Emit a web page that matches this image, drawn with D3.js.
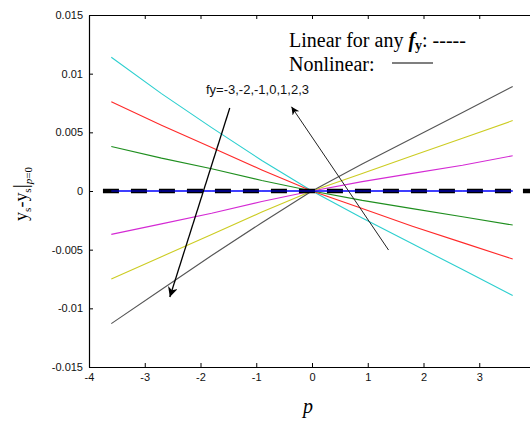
<!DOCTYPE html>
<html>
<head>
<meta charset="utf-8">
<script src="https://cdn.jsdelivr.net/npm/d3@7"></script>
<style>
  body { margin: 0; background: #fff; }
  svg { display: block; }
</style>
</head>
<body>
<script>
// sample positions along p
const pValues = [-3.6, -2.7, -1.8, -0.9, 0, 0.9, 1.8, 2.7, 3.6];

// one series per fy
const fyLabels = [-3, -2, -1, 0, 1, 2, 3];
const fyColors = ["#2ccfcf", "#ff2a2a", "#1f8f1f", "#0000ff", "#d42ad4", "#cccc22", "#555555"];
const fyMinus3 = [0.0114, 0.0083, 0.0054, 0.0026, 0, -0.0023, -0.0045, -0.0067, -0.0089];
const fyMinus2 = [0.0076, 0.0056, 0.0037, 0.0018, 0, -0.0015, -0.0030, -0.0044, -0.0058];
const fyMinus1 = [0.0038, 0.0028, 0.0019, 0.0009, 0, -0.0008, -0.0015, -0.0022, -0.0029];
const fyZero   = [0, 0, 0, 0, 0, 0, 0, 0, 0];
const fyPlus1  = [-0.0037, -0.0028, -0.0019, -0.0009, 0, 0.0008, 0.0015, 0.0022, 0.0030];
const fyPlus2  = [-0.0075, -0.0056, -0.0037, -0.0018, 0, 0.0015, 0.0030, 0.0045, 0.0060];
const fyPlus3  = [-0.0113, -0.0084, -0.0055, -0.0027, 0, 0.0023, 0.0045, 0.0067, 0.0089];
const seriesValues = [fyMinus3, fyMinus2, fyMinus1, fyZero, fyPlus1, fyPlus2, fyPlus3];

// the linear approximation (flat dashed line)
const linearP = [-3.75, 4];
const linearY = [0, 0];

const xTicks = [-4, -3, -2, -1, 0, 1, 2, 3];
const yTicks = [-0.015, -0.01, -0.005, 0, 0.005, 0.01, 0.015];

// annotation arrows [tail p, tail y, head p, head y]
const arrowDown = [-1.475, 0.00707, -2.55, -0.00903];
const arrowUp = [1.373, -0.00503, -0.368, 0.00718];

const width = 530, height = 425;
const margin = {left: 89, top: 15, bottom: 58};

const x = d3.scaleLinear().domain([-4, 4]).range([margin.left, 535]);
const y = d3.scaleLinear().domain([-0.015, 0.015]).range([height - margin.bottom, margin.top]);

const svg = d3.select("body").append("svg")
    .attr("width", width)
    .attr("height", height);

const defs = svg.append("defs");
defs.append("marker")
    .attr("id", "headBig")
    .attr("viewBox", "0 -5 10 10")
    .attr("refX", 10).attr("refY", 0)
    .attr("markerUnits", "userSpaceOnUse")
    .attr("markerWidth", 14).attr("markerHeight", 10)
    .attr("orient", "auto")
    .append("path").attr("d", "M0,-5L10,0L0,5L3,0Z").attr("fill", "#000");
defs.append("marker")
    .attr("id", "headSmall")
    .attr("viewBox", "0 -5 10 10")
    .attr("refX", 10).attr("refY", 0)
    .attr("markerUnits", "userSpaceOnUse")
    .attr("markerWidth", 11).attr("markerHeight", 8)
    .attr("orient", "auto")
    .append("path").attr("d", "M0,-5L10,0L0,5L3,0Z").attr("fill", "#000");

const line = d3.line()
    .x((d, i) => x(pValues[i]))
    .y(d => y(d));

// curves
svg.append("g")
    .attr("fill", "none")
    .attr("stroke-width", 1.1)
    .selectAll("path")
    .data(seriesValues)
    .join("path")
    .attr("stroke", (d, i) => fyColors[i])
    .attr("d", line);

// dashed linear result
svg.append("line")
    .attr("x1", x(linearP[0])).attr("x2", x(linearP[1]))
    .attr("y1", y(linearY[0])).attr("y2", y(linearY[1]))
    .attr("stroke", "#000")
    .attr("stroke-width", 4.5)
    .attr("stroke-dasharray", "16,12");

// redraw the fy=0 curve thin over the dashes, as in the original
svg.append("path")
    .attr("fill", "none")
    .attr("stroke", fyColors[3])
    .attr("stroke-width", 1)
    .attr("d", line(fyZero));

// axes: ticks point inward, plain hyphen for minus
const hyphen = s => s.replace("\u2212", "-");
const axisFont = "Liberation Sans, Arial, sans-serif";

const xAxis = svg.append("g")
    .attr("transform", `translate(0,${y(-0.015)})`)
    .call(d3.axisBottom(x).tickValues(xTicks).tickSizeInner(-4).tickSizeOuter(0)
        .tickFormat(d => hyphen(String(d))));
xAxis.selectAll("text").attr("dy", "0.71em").attr("y", 6);

const xTop = svg.append("g")
    .attr("transform", `translate(0,${y(0.015)})`)
    .call(d3.axisTop(x).tickValues(xTicks).tickSizeInner(-4).tickSizeOuter(0).tickFormat(""));

const yAxis = svg.append("g")
    .attr("transform", `translate(${x(-4)},0)`)
    .call(d3.axisLeft(y).tickValues(yTicks).tickSizeInner(-4).tickSizeOuter(0)
        .tickFormat(d => hyphen(String(+d.toFixed(3)))));
yAxis.selectAll("text").attr("x", -6);

svg.selectAll(".domain").attr("stroke", "#000").attr("stroke-width", 1.2);
svg.selectAll(".tick line").attr("stroke", "#000");
svg.selectAll(".tick text")
    .attr("font-family", axisFont)
    .attr("font-size", 11)
    .attr("fill", "#111");

// axis titles
const serif = "Liberation Serif, Times New Roman, serif";
svg.append("text")
    .attr("x", 308).attr("y", 413)
    .attr("text-anchor", "middle")
    .attr("font-family", serif)
    .attr("font-style", "italic")
    .attr("font-size", 20)
    .text("p");

const yTitle = svg.append("text")
    .attr("transform", `translate(27,${y(0) + 3}) rotate(-90)`)
    .attr("text-anchor", "middle")
    .attr("font-family", serif)
    .attr("font-size", 18);
yTitle.append("tspan").text("y");
yTitle.append("tspan").attr("font-size", 11).attr("dy", 4).text("s");
yTitle.append("tspan").attr("dy", -4).text("-y");
yTitle.append("tspan").attr("font-size", 11).attr("dy", 4).text("s");
yTitle.append("tspan").attr("dy", -4).attr("font-size", 20).text("|");
yTitle.append("tspan").attr("font-size", 11).attr("dy", 5).attr("font-style", "italic").text("p");
yTitle.append("tspan").attr("font-size", 11).text("=0");

// legend text
const legend = svg.append("g").attr("font-family", serif).attr("font-size", 20);
const l1 = legend.append("text").attr("x", 289).attr("y", 47);
l1.append("tspan").text("Linear for any ");
l1.append("tspan").attr("font-weight", "bold").attr("font-style", "italic").text("f");
l1.append("tspan").attr("font-weight", "bold").attr("font-size", 14).attr("dy", 3).text("y");
l1.append("tspan").attr("dy", -3).text(": -----");
legend.append("text").attr("x", 289).attr("y", 71).text("Nonlinear:");
legend.append("line")
    .attr("x1", 392).attr("x2", 433)
    .attr("y1", 63).attr("y2", 63)
    .attr("stroke", "#000").attr("stroke-width", 1.2);

// annotation
svg.append("text")
    .attr("x", 206).attr("y", 94)
    .attr("font-family", axisFont)
    .attr("font-size", 13)
    .attr("fill", "#111")
    .text("fy=-3,-2,-1,0,1,2,3");

svg.append("line")
    .attr("x1", x(arrowDown[0])).attr("y1", y(arrowDown[1]))
    .attr("x2", x(arrowDown[2])).attr("y2", y(arrowDown[3]))
    .attr("stroke", "#000").attr("stroke-width", 1.3)
    .attr("marker-end", "url(#headBig)");

svg.append("line")
    .attr("x1", x(arrowUp[0])).attr("y1", y(arrowUp[1]))
    .attr("x2", x(arrowUp[2])).attr("y2", y(arrowUp[3]))
    .attr("stroke", "#222").attr("stroke-width", 1)
    .attr("marker-end", "url(#headSmall)");
</script>
</body>
</html>
